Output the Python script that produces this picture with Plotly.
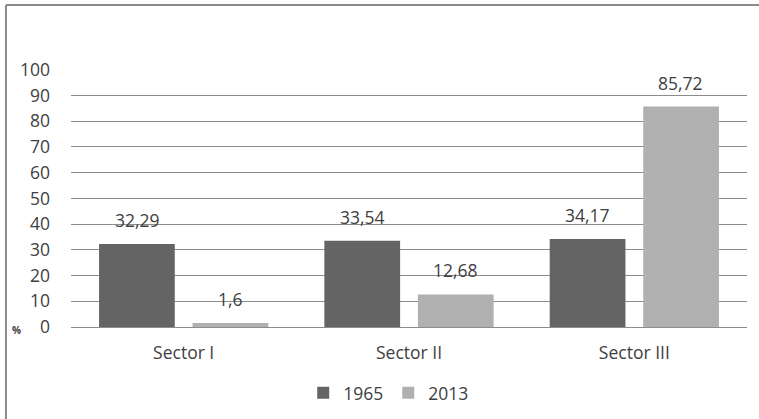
import plotly.graph_objects as go

categories = ["Sector I", "Sector II", "Sector III"]
values_1965 = [32.29, 33.54, 34.17]
values_2013 = [1.6, 12.68, 85.72]
labels_1965 = ["32,29", "33,54", "34,17"]
labels_2013 = ["1,6", "12,68", "85,72"]
series_names = ["1965", "2013"]
y_ticks = [0, 10, 20, 30, 40, 50, 60, 70, 80, 90, 100]

dark = "#646464"
light = "#b0b0b0"
txt = "#404040"
font_family = "'Open Sans', sans-serif"
fs = 17.5

fig = go.Figure()
fig.add_trace(go.Bar(x=categories, y=values_1965, name=series_names[0],
                     marker=dict(color=dark, line=dict(width=0)),
                     text=labels_1965, textposition="none"))
fig.add_trace(go.Bar(x=categories, y=values_2013, name=series_names[1],
                     marker=dict(color=light, line=dict(width=0)),
                     text=labels_2013, textposition="none"))

ann = []
for i, c in enumerate(categories):
    for j, (vals, labs) in enumerate([(values_1965, labels_1965), (values_2013, labels_2013)]):
        ann.append(dict(x=c, y=vals[i], text=labs[i], xref="x", yref="y",
                        xshift=(-46.5 if j == 0 else 46.5), yshift=24,
                        showarrow=False, font=dict(size=fs, color=txt, family=font_family)))
ann.append(dict(x=-0.08, y=0, xref="paper", yref="y", text="<b>%</b>", showarrow=False,
                xanchor="center", yanchor="middle", yshift=-3,
                font=dict(size=10, color=txt, family=font_family)))

fig.update_layout(
    width=759, height=419,
    margin=dict(l=71, r=12, t=69, b=92, autoexpand=False),
    paper_bgcolor="white", plot_bgcolor="white",
    barmode="group", bargap=0.17, bargroupgap=0.19,
    font=dict(family=font_family, color=txt, size=fs),
    showlegend=True,
    legend=dict(orientation="h", x=0.47, xanchor="center", y=-0.186, yanchor="top",
                font=dict(size=fs, color=txt), itemwidth=30, traceorder="normal"),
    annotations=ann,
    shapes=[
        dict(type="line", xref="paper", yref="paper", x0=-0.0962, x1=1.0178, y0=1.248, y1=1.248,
             line=dict(color="#8a8a8a", width=2)),
        dict(type="line", xref="paper", yref="paper", x0=-0.0962, x1=-0.0962, y0=1.248, y1=-0.36,
             line=dict(color="#8a8a8a", width=2)),
    ],
)
fig.update_xaxes(showgrid=False, showline=False, ticks="", ticklabelstandoff=13,
                 automargin=False, tickfont=dict(size=fs, color=txt))
fig.update_yaxes(range=[0, 100.3], tickvals=y_ticks, showgrid=True, gridcolor="#8c8c8c",
                 gridwidth=1, zeroline=True, zerolinecolor="#8c8c8c", zerolinewidth=1,
                 automargin=False, ticks="", ticklabelstandoff=20,
                 tickfont=dict(size=fs, color=txt))

fig.write_html("out.html", config={"displayModeBar": False},
               post_script="document.body.style.margin='0px';document.body.style.overflow='hidden';")
